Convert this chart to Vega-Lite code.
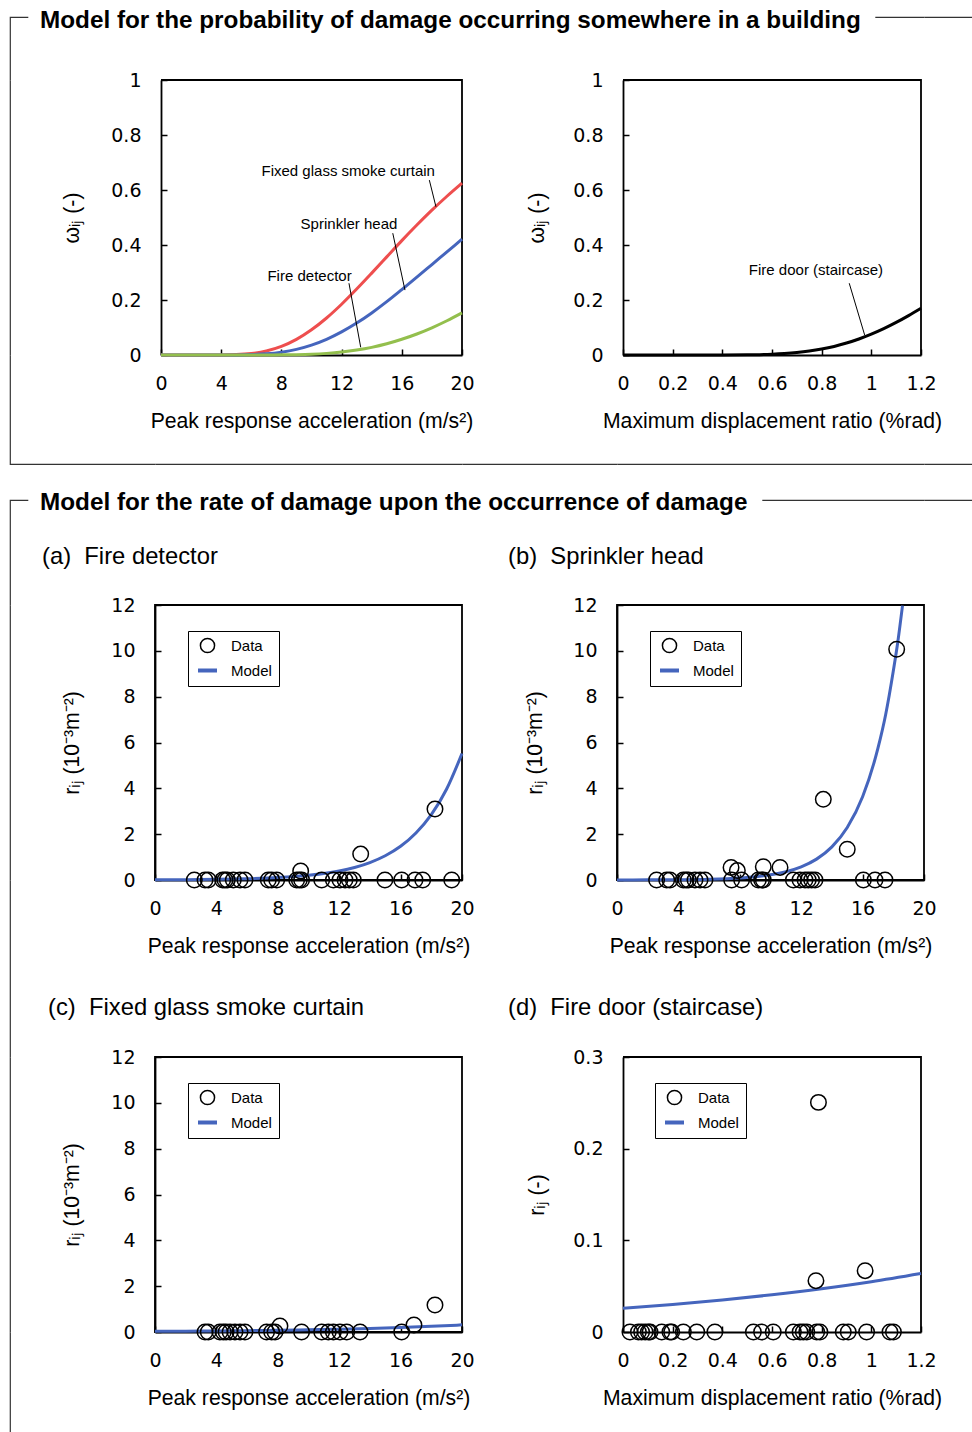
{
  "$schema": "https://vega.github.io/schema/vega-lite/v6.json",
  "background": "white",
  "padding": 0,
  "autosize": {"type": "pad"},
  "columns": 6,
  "spacing": {"row": 0, "column": 0},
  "align": "each",
  "bounds": "flush",
  "resolve": {"scale": {"color": "independent", "shape": "independent"}, "legend": {"color": "independent", "shape": "independent"}},
  "datasets": {
    "omega": [
      {"x":0,"y":0,"item":"curtain"},{"x":1,"y":0,"item":"curtain"},{"x":2,"y":0,"item":"curtain"},{"x":3,"y":0,"item":"curtain"},{"x":4,"y":0.0002,"item":"curtain"},{"x":5,"y":0.0014,"item":"curtain"},{"x":6,"y":0.0054,"item":"curtain"},{"x":7,"y":0.0146,"item":"curtain"},{"x":8,"y":0.0312,"item":"curtain"},{"x":9,"y":0.0567,"item":"curtain"},{"x":10,"y":0.0916,"item":"curtain"},{"x":11,"y":0.1346,"item":"curtain"},{"x":12,"y":0.1846,"item":"curtain"},{"x":13,"y":0.2398,"item":"curtain"},{"x":14,"y":0.2977,"item":"curtain"},{"x":15,"y":0.3568,"item":"curtain"},{"x":16,"y":0.416,"item":"curtain"},{"x":17,"y":0.4725,"item":"curtain"},{"x":18,"y":0.5267,"item":"curtain"},{"x":19,"y":0.5773,"item":"curtain"},{"x":20,"y":0.625,"item":"curtain"},
      {"x":0,"y":0,"item":"sprinkler"},{"x":1,"y":0,"item":"sprinkler"},{"x":2,"y":0,"item":"sprinkler"},{"x":3,"y":0,"item":"sprinkler"},{"x":4,"y":0,"item":"sprinkler"},{"x":5,"y":0.0003,"item":"sprinkler"},{"x":6,"y":0.0014,"item":"sprinkler"},{"x":7,"y":0.0043,"item":"sprinkler"},{"x":8,"y":0.0103,"item":"sprinkler"},{"x":9,"y":0.0205,"item":"sprinkler"},{"x":10,"y":0.036,"item":"sprinkler"},{"x":11,"y":0.057,"item":"sprinkler"},{"x":12,"y":0.084,"item":"sprinkler"},{"x":13,"y":0.116,"item":"sprinkler"},{"x":14,"y":0.153,"item":"sprinkler"},{"x":15,"y":0.194,"item":"sprinkler"},{"x":16,"y":0.238,"item":"sprinkler"},{"x":17,"y":0.283,"item":"sprinkler"},{"x":18,"y":0.329,"item":"sprinkler"},{"x":19,"y":0.375,"item":"sprinkler"},{"x":20,"y":0.421,"item":"sprinkler"},
      {"x":0,"y":0,"item":"detector"},{"x":1,"y":0,"item":"detector"},{"x":2,"y":0,"item":"detector"},{"x":3,"y":0,"item":"detector"},{"x":4,"y":0,"item":"detector"},{"x":5,"y":0,"item":"detector"},{"x":6,"y":0,"item":"detector"},{"x":7,"y":0.0001,"item":"detector"},{"x":8,"y":0.0005,"item":"detector"},{"x":9,"y":0.0013,"item":"detector"},{"x":10,"y":0.0029,"item":"detector"},{"x":11,"y":0.0059,"item":"detector"},{"x":12,"y":0.0107,"item":"detector"},{"x":13,"y":0.0179,"item":"detector"},{"x":14,"y":0.0277,"item":"detector"},{"x":15,"y":0.0407,"item":"detector"},{"x":16,"y":0.0571,"item":"detector"},{"x":17,"y":0.0764,"item":"detector"},{"x":18,"y":0.0989,"item":"detector"},{"x":19,"y":0.1245,"item":"detector"},{"x":20,"y":0.153,"item":"detector"}
    ],
    "omegaLabels": [
      {"x":12.44,"y":0.669,"label":"Fixed glass smoke curtain"},
      {"x":12.49,"y":0.476,"label":"Sprinkler head"},
      {"x":9.87,"y":0.287,"label":"Fire detector"}
    ],
    "omegaLeaders": [
      {"x":17.83,"y":0.636,"x2":18.27,"y2":0.539},
      {"x":15.40,"y":0.443,"x2":16.21,"y2":0.236},
      {"x":12.49,"y":0.261,"x2":13.27,"y2":0.028}
    ],
    "doorCurve": [
      {"x":0,"y":0},{"x":0.1,"y":0},{"x":0.2,"y":0},{"x":0.3,"y":0},{"x":0.4,"y":0.0001},{"x":0.5,"y":0.0006},{"x":0.55,"y":0.0013},{"x":0.6,"y":0.0027},{"x":0.65,"y":0.0051},{"x":0.7,"y":0.0088},{"x":0.75,"y":0.0142},{"x":0.8,"y":0.0216},{"x":0.85,"y":0.0312},{"x":0.9,"y":0.0435},{"x":0.95,"y":0.0583},{"x":1.0,"y":0.0758},{"x":1.05,"y":0.0958},{"x":1.1,"y":0.1184},{"x":1.15,"y":0.1432},{"x":1.2,"y":0.1698}
    ],
    "doorLabel": [{"x":0.777,"y":0.309,"label":"Fire door (staircase)"}],
    "doorLeader": [{"x":0.911,"y":0.261,"x2":0.973,"y2":0.073}],
    "aModel": [
      {"x":0,"y":0.0075,"series":"Model"},{"x":2,"y":0.0145,"series":"Model"},{"x":4,"y":0.028,"series":"Model"},{"x":6,"y":0.054,"series":"Model"},{"x":8,"y":0.105,"series":"Model"},{"x":10,"y":0.203,"series":"Model"},{"x":11,"y":0.282,"series":"Model"},{"x":12,"y":0.393,"series":"Model"},{"x":13,"y":0.547,"series":"Model"},{"x":14,"y":0.761,"series":"Model"},{"x":15,"y":1.059,"series":"Model"},{"x":16,"y":1.47,"series":"Model"},{"x":17,"y":2.05,"series":"Model"},{"x":18,"y":2.85,"series":"Model"},{"x":19,"y":3.97,"series":"Model"},{"x":20,"y":5.52,"series":"Model"}
    ],
    "aData": [
      {"x":2.56,"y":0,"series":"Data"},{"x":3.26,"y":0,"series":"Data"},{"x":3.47,"y":0,"series":"Data"},{"x":4.41,"y":0,"series":"Data"},{"x":4.56,"y":0,"series":"Data"},{"x":4.71,"y":0,"series":"Data"},{"x":5.10,"y":0,"series":"Data"},{"x":5.54,"y":0,"series":"Data"},{"x":5.86,"y":0,"series":"Data"},{"x":7.38,"y":0,"series":"Data"},{"x":7.60,"y":0,"series":"Data"},{"x":7.93,"y":0,"series":"Data"},{"x":9.23,"y":0,"series":"Data"},{"x":9.40,"y":0,"series":"Data"},{"x":9.55,"y":0,"series":"Data"},{"x":10.86,"y":0,"series":"Data"},{"x":11.62,"y":0,"series":"Data"},{"x":12.05,"y":0,"series":"Data"},{"x":12.38,"y":0,"series":"Data"},{"x":12.66,"y":0,"series":"Data"},{"x":12.92,"y":0,"series":"Data"},{"x":14.98,"y":0,"series":"Data"},{"x":16.07,"y":0,"series":"Data"},{"x":16.94,"y":0,"series":"Data"},{"x":17.44,"y":0,"series":"Data"},{"x":19.33,"y":0,"series":"Data"},
      {"x":9.49,"y":0.39,"series":"Data"},{"x":13.40,"y":1.13,"series":"Data"},{"x":18.24,"y":3.1,"series":"Data"}
    ],
    "bModel": [
      {"x":0,"y":0.0023,"series":"Model"},{"x":2,"y":0.0058,"series":"Model"},{"x":4,"y":0.0145,"series":"Model"},{"x":6,"y":0.0363,"series":"Model"},{"x":8,"y":0.0911,"series":"Model"},{"x":9,"y":0.144,"series":"Model"},{"x":10,"y":0.229,"series":"Model"},{"x":11,"y":0.362,"series":"Model"},{"x":12,"y":0.575,"series":"Model"},{"x":13,"y":0.911,"series":"Model"},{"x":14,"y":1.445,"series":"Model"},{"x":15,"y":2.29,"series":"Model"},{"x":16,"y":3.63,"series":"Model"},{"x":17,"y":5.75,"series":"Model"},{"x":17.5,"y":7.21,"series":"Model"},{"x":18,"y":9.12,"series":"Model"},{"x":18.3,"y":10.42,"series":"Model"},{"x":18.6,"y":11.97,"series":"Model"}
    ],
    "bData": [
      {"x":2.58,"y":0,"series":"Data"},{"x":3.24,"y":0,"series":"Data"},{"x":3.45,"y":0,"series":"Data"},{"x":4.32,"y":0,"series":"Data"},{"x":4.50,"y":0,"series":"Data"},{"x":4.65,"y":0,"series":"Data"},{"x":5.08,"y":0,"series":"Data"},{"x":5.41,"y":0,"series":"Data"},{"x":5.73,"y":0,"series":"Data"},{"x":7.47,"y":0,"series":"Data"},{"x":8.12,"y":0,"series":"Data"},{"x":9.21,"y":0,"series":"Data"},{"x":9.42,"y":0,"series":"Data"},{"x":9.53,"y":0,"series":"Data"},{"x":11.49,"y":0,"series":"Data"},{"x":11.92,"y":0,"series":"Data"},{"x":12.25,"y":0,"series":"Data"},{"x":12.46,"y":0,"series":"Data"},{"x":12.68,"y":0,"series":"Data"},{"x":12.90,"y":0,"series":"Data"},{"x":16.05,"y":0,"series":"Data"},{"x":16.81,"y":0,"series":"Data"},{"x":17.46,"y":0,"series":"Data"},
      {"x":7.43,"y":0.55,"series":"Data"},{"x":7.84,"y":0.41,"series":"Data"},{"x":9.53,"y":0.58,"series":"Data"},{"x":10.62,"y":0.55,"series":"Data"},{"x":13.44,"y":3.52,"series":"Data"},{"x":15.0,"y":1.34,"series":"Data"},{"x":18.22,"y":10.07,"series":"Data"}
    ],
    "cModel": [
      {"x":0,"y":0.03,"series":"Model"},{"x":2,"y":0.038,"series":"Model"},{"x":4,"y":0.048,"series":"Model"},{"x":6,"y":0.06,"series":"Model"},{"x":8,"y":0.077,"series":"Model"},{"x":10,"y":0.097,"series":"Model"},{"x":12,"y":0.123,"series":"Model"},{"x":14,"y":0.155,"series":"Model"},{"x":16,"y":0.195,"series":"Model"},{"x":18,"y":0.246,"series":"Model"},{"x":20,"y":0.311,"series":"Model"}
    ],
    "cData": [
      {"x":3.26,"y":0,"series":"Data"},{"x":3.47,"y":0,"series":"Data"},{"x":4.23,"y":0,"series":"Data"},{"x":4.45,"y":0,"series":"Data"},{"x":4.63,"y":0,"series":"Data"},{"x":4.89,"y":0,"series":"Data"},{"x":5.21,"y":0,"series":"Data"},{"x":5.54,"y":0,"series":"Data"},{"x":5.86,"y":0,"series":"Data"},{"x":7.27,"y":0,"series":"Data"},{"x":7.60,"y":0,"series":"Data"},{"x":7.82,"y":0,"series":"Data"},{"x":9.55,"y":0,"series":"Data"},{"x":10.86,"y":0,"series":"Data"},{"x":11.29,"y":0,"series":"Data"},{"x":11.62,"y":0,"series":"Data"},{"x":12.05,"y":0,"series":"Data"},{"x":12.49,"y":0,"series":"Data"},{"x":13.36,"y":0,"series":"Data"},{"x":16.07,"y":0,"series":"Data"},
      {"x":8.14,"y":0.26,"series":"Data"},{"x":16.87,"y":0.31,"series":"Data"},{"x":18.24,"y":1.18,"series":"Data"}
    ],
    "dModel": [
      {"x":0,"y":0.0258,"series":"Model"},{"x":0.2,"y":0.03,"series":"Model"},{"x":0.4,"y":0.0349,"series":"Model"},{"x":0.6,"y":0.0406,"series":"Model"},{"x":0.8,"y":0.0472,"series":"Model"},{"x":1.0,"y":0.0549,"series":"Model"},{"x":1.2,"y":0.0639,"series":"Model"}
    ],
    "dData": [
      {"x":0.028,"y":0,"series":"Data"},{"x":0.062,"y":0,"series":"Data"},{"x":0.075,"y":0,"series":"Data"},{"x":0.089,"y":0,"series":"Data"},{"x":0.102,"y":0,"series":"Data"},{"x":0.109,"y":0,"series":"Data"},{"x":0.156,"y":0,"series":"Data"},{"x":0.189,"y":0,"series":"Data"},{"x":0.196,"y":0,"series":"Data"},{"x":0.243,"y":0,"series":"Data"},{"x":0.297,"y":0,"series":"Data"},{"x":0.370,"y":0,"series":"Data"},{"x":0.525,"y":0,"series":"Data"},{"x":0.558,"y":0,"series":"Data"},{"x":0.605,"y":0,"series":"Data"},{"x":0.686,"y":0,"series":"Data"},{"x":0.713,"y":0,"series":"Data"},{"x":0.726,"y":0,"series":"Data"},{"x":0.740,"y":0,"series":"Data"},{"x":0.780,"y":0,"series":"Data"},{"x":0.793,"y":0,"series":"Data"},{"x":0.887,"y":0,"series":"Data"},{"x":0.907,"y":0,"series":"Data"},{"x":0.981,"y":0,"series":"Data"},{"x":1.075,"y":0,"series":"Data"},{"x":1.089,"y":0,"series":"Data"},
      {"x":0.787,"y":0.2505,"series":"Data"},{"x":0.777,"y":0.056,"series":"Data"},{"x":0.975,"y":0.0669,"series":"Data"}
    ]
  },
  "concat": [
    {"width":10,"height":17,"data":{"values":[{}]},"mark":{"type":"text","text":""}},
    {"width":145,"height":17,"data":{"values":[{}]},"mark":{"type":"text","text":""}},
    {"width":307,"height":17,"data":{"values":[{}]},"mark":{"type":"text","text":""}},
    {"width":155,"height":17,"data":{"values":[{}]},"mark":{"type":"text","text":""}},
    {"width":307,"height":17,"data":{"values":[{}]},"mark":{"type":"text","text":""}},
    {"width":48,"height":17,"data":{"values":[{}]},"mark":{"type":"text","text":""}},

    {"width":10,"height":63,"data":{"values":[{}]},"mark":{"type":"text","text":""}},
    {"width":145,"height":63,"data":{"values":[{}]},"mark":{"type":"text","text":""},"view":{"stroke":"#333","strokeWidth":1.2,"strokeDash":[18,335,63,0]}},
    {"width":307,"height":63,"data":{"values":[{}]},"mark":{"type":"text","text":""},
     "title":{"text":"Model for the probability of damage occurring somewhere in a building","fontWeight":"bold","fontSize":24.3,"dx":-115,"dy":-75}},
    {"width":155,"height":63,"data":{"values":[{}]},"mark":{"type":"text","text":""}},
    {"width":307,"height":63,"data":{"values":[{}]},"mark":{"type":"text","text":""},"view":{"stroke":"#333","strokeWidth":1.2,"strokeDash":[0,258,49,433]}},
    {"width":48,"height":63,"data":{"values":[{}]},"mark":{"type":"text","text":""},"view":{"stroke":"#333","strokeWidth":1.2,"strokeDash":[48,174]}},

    {"width":10,"height":275,"data":{"values":[{}]},"mark":{"type":"text","text":""}},
    {"width":145,"height":275,"data":{"values":[{}]},"mark":{"type":"text","text":""},"view":{"stroke":"#333","strokeWidth":1.2,"strokeDash":[0,565,275,0]}},
    {
      "width":307,"height":275,"view":{"stroke":"black","strokeWidth":1.8,"strokeDash":[0,6,576,582]},
      "encoding":{
        "x":{"field":"x","type":"quantitative","scale":{"domain":[0,20],"nice":false,"range":[6,307]},"axis":{"values":[0,4,8,12,16,20],"title":"Peak response acceleration (m/s²)"}},
        "y":{"field":"y","type":"quantitative","scale":{"domain":[0,1],"nice":false},"axis":{"values":[0,0.2,0.4,0.6,0.8,1],"format":"~g","title":"ωᵢⱼ (-)","titleX":-89,"offset":-6}}
      },
      "layer":[
        {"data":{"name":"omega"},"mark":{"type":"line","strokeWidth":3,"interpolate":"monotone"},
         "encoding":{"color":{"field":"item","type":"nominal","scale":{"domain":["curtain","sprinkler","detector"],"range":["#EE4E4E","#4565BD","#93BF4D"]},"legend":null}}},
        {"data":{"name":"omegaLeaders"},"mark":{"type":"rule","color":"black","strokeWidth":1},
         "encoding":{"x2":{"field":"x2"},"y2":{"field":"y2"}}},
        {"data":{"name":"omegaLabels"},"mark":{"type":"text","fontSize":15,"color":"black","font":"Liberation Sans"},
         "encoding":{"text":{"field":"label"}}}
      ]
    },
    {"width":155,"height":275,"data":{"values":[{}]},"mark":{"type":"text","text":""}},
    {
      "width":304,"height":275,"view":{"stroke":"black","strokeWidth":1.8,"strokeDash":[0,6,573,579]},
      "encoding":{
        "x":{"field":"x","type":"quantitative","scale":{"domain":[0,1.2],"nice":false,"range":[6,304]},"axis":{"values":[0,0.2,0.4,0.6,0.8,1,1.2],"format":"~g","title":"Maximum displacement ratio (%rad)"}},
        "y":{"field":"y","type":"quantitative","scale":{"domain":[0,1],"nice":false},"axis":{"values":[0,0.2,0.4,0.6,0.8,1],"format":"~g","title":"ωᵢⱼ (-)","titleX":-86,"offset":-6}}
      },
      "layer":[
        {"data":{"name":"doorCurve"},"mark":{"type":"line","strokeWidth":3,"color":"black","interpolate":"monotone"}},
        {"data":{"name":"doorLeader"},"mark":{"type":"rule","color":"black","strokeWidth":1},
         "encoding":{"x2":{"field":"x2"},"y2":{"field":"y2"}}},
        {"data":{"name":"doorLabel"},"mark":{"type":"text","fontSize":15,"color":"black","font":"Liberation Sans"},
         "encoding":{"text":{"field":"label"}}}
      ]
    },
    {"width":48,"height":275,"data":{"values":[{}]},"mark":{"type":"text","text":""}},

    {"width":10,"height":109,"data":{"values":[{}]},"mark":{"type":"text","text":""}},
    {"width":145,"height":109,"data":{"values":[{}]},"mark":{"type":"text","text":""},"view":{"stroke":"#333","strokeWidth":1.2,"strokeDash":[0,254,254,0]}},
    {"width":307,"height":109,"data":{"values":[{}]},"mark":{"type":"text","text":""},"view":{"stroke":"#333","strokeWidth":1.2,"strokeDash":[0,416,307,109]}},
    {"width":155,"height":109,"data":{"values":[{}]},"mark":{"type":"text","text":""},"view":{"stroke":"#333","strokeWidth":1.2,"strokeDash":[0,264,155,109]}},
    {"width":307,"height":109,"data":{"values":[{}]},"mark":{"type":"text","text":""},"view":{"stroke":"#333","strokeWidth":1.2,"strokeDash":[0,416,307,109]}},
    {"width":48,"height":109,"data":{"values":[{}]},"mark":{"type":"text","text":""},"view":{"stroke":"#333","strokeWidth":1.2,"strokeDash":[0,157,48,109]}},

    {"width":10,"height":36,"data":{"values":[{}]},"mark":{"type":"text","text":""}},
    {"width":145,"height":36,"data":{"values":[{}]},"mark":{"type":"text","text":""}},
    {"width":307,"height":36,"data":{"values":[{}]},"mark":{"type":"text","text":""}},
    {"width":155,"height":36,"data":{"values":[{}]},"mark":{"type":"text","text":""}},
    {"width":307,"height":36,"data":{"values":[{}]},"mark":{"type":"text","text":""}},
    {"width":48,"height":36,"data":{"values":[{}]},"mark":{"type":"text","text":""}},

    {"width":10,"height":105,"data":{"values":[{}]},"mark":{"type":"text","text":""}},
    {"width":145,"height":105,"data":{"values":[{}]},"mark":{"type":"text","text":""},"view":{"stroke":"#333","strokeWidth":1.2,"strokeDash":[18,377,105,0]},
     "title":{"text":"(a)\u00a0 Fire detector","dx":32,"dy":-64}},
    {"width":307,"height":105,"data":{"values":[{}]},"mark":{"type":"text","text":""},
     "title":{"text":"Model for the rate of damage upon the occurrence of damage","fontWeight":"bold","fontSize":24.3,"dx":-115,"dy":-118}},
    {"width":155,"height":105,"data":{"values":[{}]},"mark":{"type":"text","text":""}},
    {"width":307,"height":105,"data":{"values":[{}]},"mark":{"type":"text","text":""},"view":{"stroke":"#333","strokeWidth":1.2,"strokeDash":[0,145,162,517]},
     "title":{"text":"(b)\u00a0 Sprinkler head","dx":-109,"dy":-64}},
    {"width":48,"height":105,"data":{"values":[{}]},"mark":{"type":"text","text":""},"view":{"stroke":"#333","strokeWidth":1.2,"strokeDash":[48,258]}},

    {"width":10,"height":275,"data":{"values":[{}]},"mark":{"type":"text","text":""}},
    {"width":145,"height":275,"data":{"values":[{}]},"mark":{"type":"text","text":""},"view":{"stroke":"#333","strokeWidth":1.2,"strokeDash":[0,565,275,0]}},
    {
      "width":307,"height":275,"view":{"stroke":"black","strokeWidth":1.8},
      "encoding":{
        "x":{"field":"x","type":"quantitative","scale":{"domain":[0,20],"nice":false},"axis":{"values":[0,4,8,12,16,20],"title":"Peak response acceleration (m/s²)"}},
        "y":{"field":"y","type":"quantitative","scale":{"domain":[0,12],"nice":false},"axis":{"values":[0,2,4,6,8,10,12],"title":"rᵢⱼ (10⁻³m⁻²)","titleX":-83}},
        "color":{"field":"series","type":"nominal","scale":{"domain":["Data","Model"],"range":["black","#4565BD"]},
          "legend":{"title":null,"orient":"none","legendX":33,"legendY":26,"encode":{"symbols":{"update":{"size":{"signal":"datum.value === 'Data' ? 200 : 361"},"strokeWidth":{"signal":"datum.value === 'Data' ? 1.5 : 4"}}}}}}
      },
      "layer":[
        {"data":{"name":"aModel"},"mark":{"type":"line","strokeWidth":3,"interpolate":"monotone"}},
        {"data":{"name":"aData"},"mark":{"type":"point","filled":false,"size":240,"strokeWidth":1.5,"opacity":1},
         "encoding":{"shape":{"field":"series","type":"nominal","scale":{"domain":["Data","Model"],"range":["circle","stroke"]},
           "legend":{"title":null,"orient":"none","legendX":33,"legendY":26,"encode":{"symbols":{"update":{"size":{"signal":"datum.value === 'Data' ? 200 : 361"},"strokeWidth":{"signal":"datum.value === 'Data' ? 1.5 : 4"}}}}}}}}
      ]
    },
    {"width":155,"height":275,"data":{"values":[{}]},"mark":{"type":"text","text":""}},
    {
      "width":307,"height":275,"view":{"stroke":"black","strokeWidth":1.8},
      "encoding":{
        "x":{"field":"x","type":"quantitative","scale":{"domain":[0,20],"nice":false},"axis":{"values":[0,4,8,12,16,20],"title":"Peak response acceleration (m/s²)"}},
        "y":{"field":"y","type":"quantitative","scale":{"domain":[0,12],"nice":false},"axis":{"values":[0,2,4,6,8,10,12],"title":"rᵢⱼ (10⁻³m⁻²)","titleX":-82}},
        "color":{"field":"series","type":"nominal","scale":{"domain":["Data","Model"],"range":["black","#4565BD"]},
          "legend":{"title":null,"orient":"none","legendX":33,"legendY":26,"encode":{"symbols":{"update":{"size":{"signal":"datum.value === 'Data' ? 200 : 361"},"strokeWidth":{"signal":"datum.value === 'Data' ? 1.5 : 4"}}}}}}
      },
      "layer":[
        {"data":{"name":"bModel"},"mark":{"type":"line","strokeWidth":3,"interpolate":"monotone"}},
        {"data":{"name":"bData"},"mark":{"type":"point","filled":false,"size":240,"strokeWidth":1.5,"opacity":1},
         "encoding":{"shape":{"field":"series","type":"nominal","scale":{"domain":["Data","Model"],"range":["circle","stroke"]},
           "legend":{"title":null,"orient":"none","legendX":33,"legendY":26,"encode":{"symbols":{"update":{"size":{"signal":"datum.value === 'Data' ? 200 : 361"},"strokeWidth":{"signal":"datum.value === 'Data' ? 1.5 : 4"}}}}}}}}
      ]
    },
    {"width":48,"height":275,"data":{"values":[{}]},"mark":{"type":"text","text":""}},

    {"width":10,"height":177,"data":{"values":[{}]},"mark":{"type":"text","text":""}},
    {"width":145,"height":177,"data":{"values":[{}]},"mark":{"type":"text","text":""},"view":{"stroke":"#333","strokeWidth":1.2,"strokeDash":[0,467,177,0]}},
    {"width":307,"height":177,"data":{"values":[{}]},"mark":{"type":"text","text":""},
     "title":{"text":"(c)\u00a0 Fixed glass smoke curtain","dx":-107,"dy":-65}},
    {"width":155,"height":177,"data":{"values":[{}]},"mark":{"type":"text","text":""}},
    {"width":307,"height":177,"data":{"values":[{}]},"mark":{"type":"text","text":""},
     "title":{"text":"(d)\u00a0 Fire door (staircase)","dx":-109,"dy":-65}},
    {"width":48,"height":177,"data":{"values":[{}]},"mark":{"type":"text","text":""}},

    {"width":10,"height":275,"data":{"values":[{}]},"mark":{"type":"text","text":""}},
    {"width":145,"height":275,"data":{"values":[{}]},"mark":{"type":"text","text":""},"view":{"stroke":"#333","strokeWidth":1.2,"strokeDash":[0,565,275,0]}},
    {
      "width":307,"height":275,"view":{"stroke":"black","strokeWidth":1.8},
      "encoding":{
        "x":{"field":"x","type":"quantitative","scale":{"domain":[0,20],"nice":false},"axis":{"values":[0,4,8,12,16,20],"title":"Peak response acceleration (m/s²)"}},
        "y":{"field":"y","type":"quantitative","scale":{"domain":[0,12],"nice":false},"axis":{"values":[0,2,4,6,8,10,12],"title":"rᵢⱼ (10⁻³m⁻²)","titleX":-83}},
        "color":{"field":"series","type":"nominal","scale":{"domain":["Data","Model"],"range":["black","#4565BD"]},
          "legend":{"title":null,"orient":"none","legendX":33,"legendY":26,"encode":{"symbols":{"update":{"size":{"signal":"datum.value === 'Data' ? 200 : 361"},"strokeWidth":{"signal":"datum.value === 'Data' ? 1.5 : 4"}}}}}}
      },
      "layer":[
        {"data":{"name":"cModel"},"mark":{"type":"line","strokeWidth":3,"interpolate":"monotone"}},
        {"data":{"name":"cData"},"mark":{"type":"point","filled":false,"size":240,"strokeWidth":1.5,"opacity":1},
         "encoding":{"shape":{"field":"series","type":"nominal","scale":{"domain":["Data","Model"],"range":["circle","stroke"]},
           "legend":{"title":null,"orient":"none","legendX":33,"legendY":26,"encode":{"symbols":{"update":{"size":{"signal":"datum.value === 'Data' ? 200 : 361"},"strokeWidth":{"signal":"datum.value === 'Data' ? 1.5 : 4"}}}}}}}}
      ]
    },
    {"width":155,"height":275,"data":{"values":[{}]},"mark":{"type":"text","text":""}},
    {
      "width":304,"height":275,"view":{"stroke":"black","strokeWidth":1.8,"strokeDash":[0,6,573,579]},
      "encoding":{
        "x":{"field":"x","type":"quantitative","scale":{"domain":[0,1.2],"nice":false,"range":[6,304]},"axis":{"values":[0,0.2,0.4,0.6,0.8,1,1.2],"format":"~g","title":"Maximum displacement ratio (%rad)"}},
        "y":{"field":"y","type":"quantitative","scale":{"domain":[0,0.3],"nice":false},"axis":{"values":[0,0.1,0.2,0.3],"format":"~g","title":"rᵢⱼ (-)","titleX":-86,"offset":-6}},
        "color":{"field":"series","type":"nominal","scale":{"domain":["Data","Model"],"range":["black","#4565BD"]},
          "legend":{"title":null,"orient":"none","legendX":38,"legendY":26,"encode":{"symbols":{"update":{"size":{"signal":"datum.value === 'Data' ? 200 : 361"},"strokeWidth":{"signal":"datum.value === 'Data' ? 1.5 : 4"}}}}}}
      },
      "layer":[
        {"data":{"name":"dModel"},"mark":{"type":"line","strokeWidth":3,"interpolate":"monotone"}},
        {"data":{"name":"dData"},"mark":{"type":"point","filled":false,"size":240,"strokeWidth":1.5,"opacity":1},
         "encoding":{"shape":{"field":"series","type":"nominal","scale":{"domain":["Data","Model"],"range":["circle","stroke"]},
           "legend":{"title":null,"orient":"none","legendX":38,"legendY":26,"encode":{"symbols":{"update":{"size":{"signal":"datum.value === 'Data' ? 200 : 361"},"strokeWidth":{"signal":"datum.value === 'Data' ? 1.5 : 4"}}}}}}}}
      ]
    },
    {"width":48,"height":275,"data":{"values":[{}]},"mark":{"type":"text","text":""}},

    {"width":10,"height":100,"data":{"values":[{}]},"mark":{"type":"text","text":""}},
    {"width":145,"height":100,"data":{"values":[{}]},"mark":{"type":"text","text":""},"view":{"stroke":"#333","strokeWidth":1.2,"strokeDash":[0,390,100,0]}},
    {"width":307,"height":100,"data":{"values":[{}]},"mark":{"type":"text","text":""}},
    {"width":155,"height":100,"data":{"values":[{}]},"mark":{"type":"text","text":""}},
    {"width":307,"height":100,"data":{"values":[{}]},"mark":{"type":"text","text":""}},
    {"width":48,"height":100,"data":{"values":[{}]},"mark":{"type":"text","text":""}}
  ],
  "config": {
    "font": "Liberation Sans",
    "view": {"stroke": null},
    "axis": {
      "grid": false,
      "domainColor": "black", "domainWidth": 1.8,
      "tickColor": "black", "tickWidth": 1.5, "tickSize": -6,
      "labelFont": "DejaVu Sans", "labelFontSize": 19, "labelColor": "black",
      "labelFlush": false, "labelOverlap": false,
      "titleFont": "Liberation Sans", "titleFontSize": 21.2, "titleFontWeight": "normal", "titleColor": "black",
      "titleBaseline": "middle"
    },
    "axisX": {"labelPadding": 25, "titleY": 66},
    "axisY": {"labelPadding": 26},
    "legend": {
      "labelFont": "Liberation Sans", "labelFontSize": 15, "labelColor": "black",
      "strokeColor": "black", "fillColor": "white", "padding": 7, "rowPadding": 6,
      "labelOffset": 16, "symbolOffset": 5, "symbolSize": 361, "symbolStrokeWidth": 1.5
    },
    "title": {
      "font": "Liberation Sans", "fontSize": 23.8, "fontWeight": "normal", "color": "black",
      "orient": "bottom", "anchor": "start", "frame": "group", "offset": 0
    }
  }
}
